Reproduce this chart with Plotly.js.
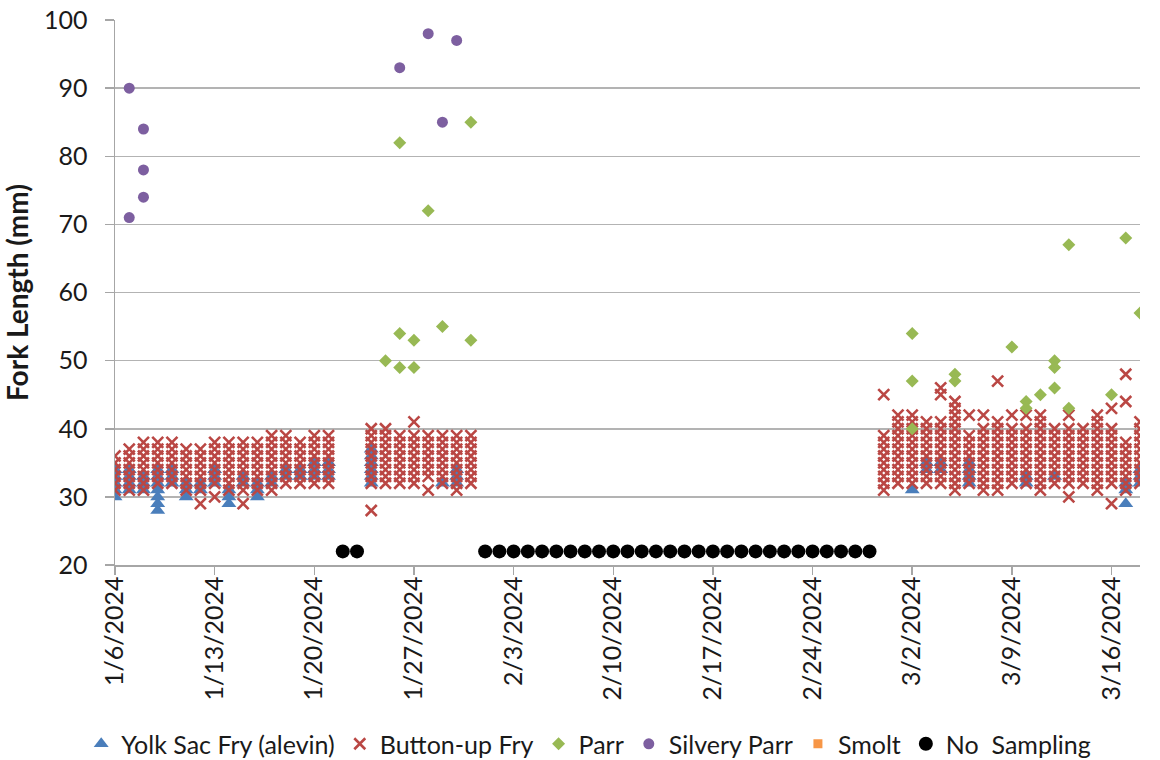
<!DOCTYPE html>
<html>
<head>
<meta charset="utf-8">
<script src="https://cdn.plot.ly/plotly-3.0.1.min.js"></script>
<style>html,body{margin:0;padding:0;background:#fff;}#chart{width:1160px;height:760px;}</style>
</head>
<body>
<div id="chart"></div>
<script>
// Sampling dates (one column of fish per date)
const sampleDates = [
  '2024-01-06','2024-01-07','2024-01-08','2024-01-09','2024-01-10','2024-01-11','2024-01-12','2024-01-13',
  '2024-01-14','2024-01-15','2024-01-16','2024-01-17','2024-01-18','2024-01-19','2024-01-20','2024-01-21',
  '2024-01-24','2024-01-25','2024-01-26','2024-01-27','2024-01-28','2024-01-29','2024-01-30','2024-01-31',
  '2024-02-29','2024-03-01','2024-03-02','2024-03-03','2024-03-04','2024-03-05','2024-03-06','2024-03-07',
  '2024-03-08','2024-03-09','2024-03-10','2024-03-11','2024-03-12','2024-03-13','2024-03-14','2024-03-15',
  '2024-03-16','2024-03-17','2024-03-18'
];

// Button-up fry fork lengths (mm) per sampling date
const buttonUpFry = [
  [31,32,33,34,35,36],
  [31,32,33,34,35,36,37],
  [31,32,33,34,35,36,37,38],
  [32,33,34,35,36,37,38],
  [32,33,34,35,36,37,38],
  [31,32,33,34,35,36,37],
  [29,31,32,33,34,35,36,37],
  [30,32,33,34,35,36,37,38],
  [31,32,33,34,35,36,37,38],
  [29,31,32,33,34,35,36,37,38],
  [31,32,33,34,35,36,37,38],
  [31,32,33,34,35,36,37,38,39],
  [32,33,34,35,36,37,38,39],
  [32,33,34,35,36,37,38],
  [32,33,34,35,36,37,38,39],
  [32,33,34,35,36,37,38,39],
  [28,32,33,34,35,36,37,38,39,40],
  [32,33,34,35,36,37,38,39,40],
  [32,33,34,35,36,37,38,39],
  [32,33,34,35,36,37,38,39,41],
  [31,33,34,35,36,37,38,39],
  [32,33,34,35,36,37,38,39],
  [31,32,33,34,35,36,37,38,39],
  [32,33,34,35,36,37,38,39],
  [31,32,33,34,35,36,37,38,39,45],
  [32,33,34,35,36,37,38,39,40,41,42],
  [32,33,34,35,36,37,38,39,40,41,42],
  [32,33,34,35,36,37,38,39,40,41],
  [32,33,34,35,36,37,38,39,40,41,45,46],
  [31,32,33,34,35,36,37,38,39,40,41,42,43,44],
  [32,33,34,35,36,37,38,39,42],
  [31,32,33,34,35,36,37,38,39,40,42],
  [31,32,33,34,35,36,37,38,39,40,41,47],
  [32,33,34,35,36,37,38,39,40,42],
  [32,33,34,35,36,37,38,39,40,42],
  [31,32,33,34,35,36,37,38,39,40,41,42],
  [32,33,34,35,36,37,38,39,40],
  [30,32,33,34,35,36,37,38,39,40,42],
  [32,33,34,35,36,37,38,39,40],
  [31,32,33,34,35,36,37,38,39,40,41,42],
  [29,32,33,34,35,36,37,38,39,40,43],
  [31,32,33,34,35,36,37,38,44,48],
  [32,33,34,35,36,37,38,39,40,41]
];

// Yolk sac fry (alevin) fork lengths (mm) per sampling date
const yolkSacFry = [
  [30,31,32,33,34],
  [31,32,33,34],
  [31,32,33],
  [28,29,30,31,32,33,34],
  [32,33,34],
  [30,31,32],
  [31,32],
  [32,33,34],
  [29,30,31],
  [32,33],
  [30,31,32],
  [32,33],
  [33,34],
  [33,34],
  [33,34,35],
  [33,34,35],
  [32,33,34,35,36,37],
  [],
  [],
  [],
  [],
  [32],
  [32,33,34],
  [],
  [],
  [],
  [31],
  [34,35],
  [34,35],
  [],
  [32,33,34,35],
  [],
  [],
  [],
  [32,33],
  [],
  [33],
  [],
  [],
  [],
  [],
  [29,31,32],
  [32,33,34]
];

// Parr
const parrDates = [
  '2024-01-25','2024-01-26','2024-01-26','2024-01-26','2024-01-27','2024-01-27','2024-01-28','2024-01-29',
  '2024-01-31','2024-01-31','2024-03-02','2024-03-02','2024-03-02','2024-03-05','2024-03-05','2024-03-09',
  '2024-03-10','2024-03-10','2024-03-11','2024-03-12','2024-03-12','2024-03-12','2024-03-13','2024-03-13',
  '2024-03-16','2024-03-17','2024-03-18'
];
const parrLengths = [
  50,82,54,49,53,49,72,55,
  85,53,54,47,40,48,47,52,
  44,43,45,50,49,46,67,43,
  45,68,57
];

// Silvery parr
const silveryDates = ['2024-01-07','2024-01-07','2024-01-08','2024-01-08','2024-01-08','2024-01-26','2024-01-28','2024-01-29','2024-01-30'];
const silveryLengths = [90,71,84,78,74,93,98,85,97];

// Smolt (none caught)
const smoltDates = [];
const smoltLengths = [];

// Days without sampling
const noSamplingDates = [
  '2024-01-22','2024-01-23',
  '2024-02-01','2024-02-02','2024-02-03','2024-02-04','2024-02-05','2024-02-06','2024-02-07',
  '2024-02-08','2024-02-09','2024-02-10','2024-02-11','2024-02-12','2024-02-13','2024-02-14',
  '2024-02-15','2024-02-16','2024-02-17','2024-02-18','2024-02-19','2024-02-20','2024-02-21',
  '2024-02-22','2024-02-23','2024-02-24','2024-02-25','2024-02-26','2024-02-27','2024-02-28'
];
const noSamplingLevel = 22;

// Axis ticks
const tickDates = ['2024-01-06','2024-01-13','2024-01-20','2024-01-27','2024-02-03','2024-02-10','2024-02-17','2024-02-24','2024-03-02','2024-03-09','2024-03-16'];
const tickLabels = ['1/6/2024','1/13/2024','1/20/2024','1/27/2024','2/3/2024','2/10/2024','2/17/2024','2/24/2024','3/2/2024','3/9/2024','3/16/2024'];

function flatten(dates, groups) {
  const xs = [], ys = [];
  dates.forEach((d, i) => groups[i].forEach(v => { xs.push(d); ys.push(v); }));
  return {x: xs, y: ys};
}

const ys = flatten(sampleDates, yolkSacFry);
const bu = flatten(sampleDates, buttonUpFry);

const traces = [
  {type:'scatter', mode:'markers', name:'Yolk Sac Fry (alevin)', x: ys.x, y: ys.y,
   marker:{symbol:'triangle-up', size:13, color:'#4A7EBB'}},
  {type:'scatter', mode:'markers', name:'Button-up Fry', x: bu.x, y: bu.y,
   marker:{symbol:'x-thin-open', size:11, color:'#BA4744', line:{width:2.6, color:'#BA4744'}}},
  {type:'scatter', mode:'markers', name:'Parr', x: parrDates, y: parrLengths,
   marker:{symbol:'diamond', size:10, color:'#98B954'}},
  {type:'scatter', mode:'markers', name:'Silvery Parr', x: silveryDates, y: silveryLengths,
   marker:{symbol:'circle', size:11, color:'#7D5FA0'}},
  {type:'scatter', mode:'markers', name:'Smolt', x: smoltDates.length ? smoltDates : [null], y: smoltLengths.length ? smoltLengths : [null],
   marker:{symbol:'square', size:9, color:'#F79646'}},
  {type:'scatter', mode:'markers', name:'No  Sampling', x: noSamplingDates, y: noSamplingDates.map(() => noSamplingLevel),
   marker:{symbol:'circle', size:14, color:'#000000'}}
];

const layout = {
  width:1160, height:760,
  margin:{l:115, r:20, t:20, b:195},
  paper_bgcolor:'#fff', plot_bgcolor:'#fff',
  font:{family:'Lato, sans-serif', color:'#1a1a1a'},
  showlegend:true,
  legend:{orientation:'h', x:0.07, xanchor:'left', xref:'container', yref:'container', y:0.021, yanchor:'middle',
          bgcolor:'rgba(0,0,0,0)', font:{size:25, family:'Lato, sans-serif', color:'#1a1a1a'}, itemwidth:30, tracegroupgap:0},
  xaxis:{type:'date', range:['2024-01-06','2024-03-18'], tickvals:tickDates, ticktext:tickLabels,
         tickangle:-90, tickfont:{size:25}, ticklabelstandoff:-8, showgrid:false, zeroline:false,
         showline:true, linecolor:'#a6a6a6', linewidth:1.5, ticks:'outside', ticklen:8, tickcolor:'#a6a6a6', tickwidth:1.5},
  yaxis:{range:[20,100], dtick:10, tick0:20, tickfont:{size:25}, ticklabelstandoff:12, showgrid:true, gridcolor:'#b3b3b3', gridwidth:1.5,
         zeroline:false, showline:true, linecolor:'#a6a6a6', linewidth:1.5, ticks:'outside', ticklen:9, tickcolor:'#a6a6a6', tickwidth:1.5,
         title:{text:'<b>Fork Length (mm)</b>', font:{size:28, family:'Lato, sans-serif', color:'#1a1a1a'}, standoff:10}}
};

Plotly.newPlot('chart', traces, layout, {displayModeBar:false, staticPlot:true});
</script>
</body>
</html>
